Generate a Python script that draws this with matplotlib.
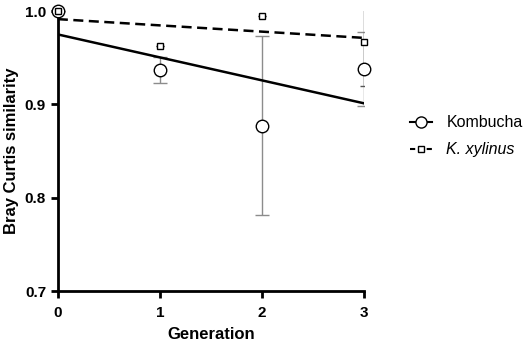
import numpy as np
import matplotlib
matplotlib.use("Agg")
import matplotlib.pyplot as plt
from matplotlib.lines import Line2D

plt.rcParams['font.family'] = ['Liberation Sans', 'DejaVu Sans']

generation = [0, 1, 2, 3]
kombucha_mean = [1.0, 0.937, 0.877, 0.938]
kombucha_err = [0.0, 0.014, 0.096, 0.040]
xylinus_mean = [1.0, 0.963, 0.995, 0.967]
xylinus_err = [0.0, 0.0, 0.0, 0.047]
xticks = [0, 1, 2, 3]
yticks = [0.7, 0.8, 0.9, 1.0]

fig = plt.figure(figsize=(5.26, 3.44), dpi=100)
ax = fig.add_axes([0.110, 0.154, 0.582, 0.814])

x = np.array(generation, dtype=float)

# error bars
ax.errorbar(x, kombucha_mean, yerr=kombucha_err, fmt='none', ecolor='#8c8c8c',
            elinewidth=1.0, capsize=5, capthick=1.0, zorder=2, clip_on=True)
ax.errorbar(x, xylinus_mean, yerr=xylinus_err, fmt='none', ecolor='#555555',
            elinewidth=1.0, capsize=3, capthick=1.0, zorder=2, clip_on=True)

# regression lines
xf = np.array([0.0, 3.0])
pk = np.polyfit(x, kombucha_mean, 1)
px = np.polyfit(x, xylinus_mean, 1)
ax.plot(xf, np.polyval(pk, xf), color='black', lw=1.8, zorder=3)
ax.plot(xf, np.polyval(px, xf), color='black', lw=1.8, ls=(0, (4, 2.2)), zorder=3)

# markers
ax.plot(x, kombucha_mean, 'o', ms=9, mfc='white', mec='black', mew=1.0,
        zorder=4, clip_on=False)
ax.plot(x, xylinus_mean, 's', ms=5, mfc='white', mec='black', mew=1.0,
        zorder=5, clip_on=False)

ax.set_xlim(0, 3)
ax.set_ylim(0.7, 1.0)
ax.set_xticks(xticks)
ax.set_xticklabels([str(t) for t in xticks])
ax.set_yticks(yticks)
ax.set_yticklabels([f"{t:.1f}" for t in yticks])

for s in ['top', 'right']:
    ax.spines[s].set_visible(False)
for s in ['left', 'bottom']:
    ax.spines[s].set_linewidth(2.0)
ax.tick_params(width=2.0, length=5, direction='out', labelsize=11)
ax.tick_params(axis='x', pad=5.5)
for lab in ax.get_xticklabels() + ax.get_yticklabels():
    lab.set_fontweight('bold')

ax.set_xlabel('Generation', fontsize=12, fontweight='bold', labelpad=5)
ax.set_ylabel('Bray Curtis similarity', fontsize=12, fontweight='bold', labelpad=4)

handles = [
    Line2D([0], [0], color='black', lw=1.5, marker='o', ms=8, mfc='white',
           mec='black', mew=1.0),
    Line2D([0], [0], color='black', lw=1.5, ls=(0, (2.5, 1.5)), marker='s', ms=4,
           mfc='white', mec='black', mew=1.0),
]
leg = fig.legend(handles, ['Kombucha', 'K. xylinus'], loc='upper left',
                 bbox_to_anchor=(0.779, 0.665), frameon=False, fontsize=11.5,
                 handlelength=1.4, handletextpad=0.9, labelspacing=0.75,
                 borderpad=0, borderaxespad=0)
leg.get_texts()[1].set_fontstyle('italic')

fig.savefig('out.png', dpi=100)
